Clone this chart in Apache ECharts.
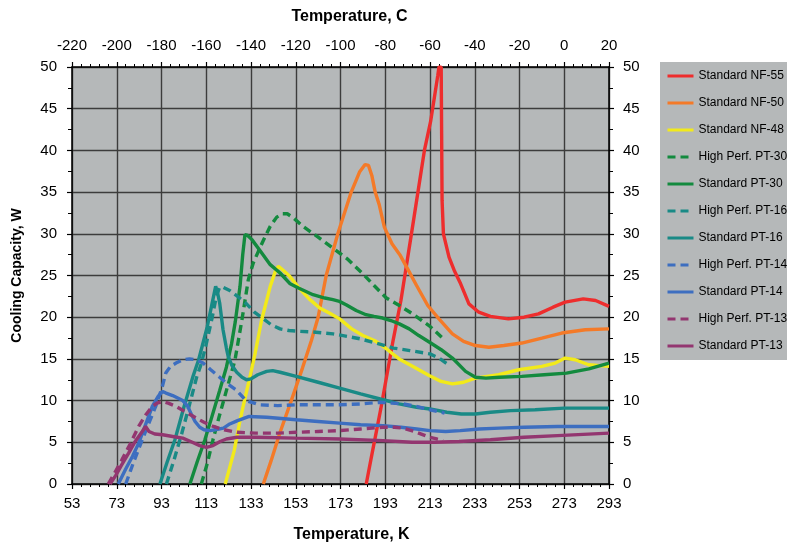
<!DOCTYPE html>
<html>
<head>
<meta charset="utf-8">
<script src="https://cdn.jsdelivr.net/npm/echarts@6/dist/echarts.min.js"></script>
<style>
html,body{margin:0;padding:0;background:#fff;}
#chart{width:787px;height:549px;}
</style>
</head>
<body>
<div id="chart"></div>
<script>
// Tick labels / axis ranges
var kelvinTicks = [53, 73, 93, 113, 133, 153, 173, 193, 213, 233, 253, 273, 293];
var celsiusTicks = [-220, -200, -180, -160, -140, -120, -100, -80, -60, -40, -20, 0, 20];
var capacityTicks = [0, 5, 10, 15, 20, 25, 30, 35, 40, 45, 50];

var seriesNames = ['Standard NF-55', 'Standard NF-50', 'Standard NF-48', 'High Perf. PT-30', 'Standard PT-30',
  'High Perf. PT-16', 'Standard PT-16', 'High Perf. PT-14', 'Standard PT-14', 'High Perf. PT-13', 'Standard PT-13'];

// [Temperature K, Cooling capacity W]
var nf55 = [[184.5,0],[186.5,2.8],[191,9],[196.5,17.2],[200,22],[205,30.5],[210.5,40],[213.3,43.5],[216.5,49],[217,50],[218,50],[218.2,42],[218.4,34],[219,30],[221.5,27.2],[224,25.5],[226.7,24],[230.4,21.6],[234.8,20.6],[240,20.1],[248,19.8],[255,20],[261.5,20.4],[268,21.2],[273.4,21.8],[281.5,22.2],[287,22],[293,21.3]];
var nf50 = [[138.5,0],[142,2.8],[146,6.2],[151,10],[156,13.9],[160,17.2],[163,20],[166.6,25],[171.8,30],[177.8,35],[181.5,37.4],[184,38.3],[185.5,38.2],[187,37],[188.5,35],[190.3,33.5],[192.6,30.8],[196,28.8],[199.5,27.5],[203,25.8],[207,23.8],[212,21.4],[217,19.8],[223,18],[228,17.1],[233.3,16.6],[239.3,16.4],[246,16.6],[254,16.9],[263,17.5],[271.9,18.1],[282.4,18.5],[293,18.6]];
var nf48 = [[121.5,0],[123.5,2],[125.5,4],[128,7.5],[130.5,10.5],[132.5,12.8],[134.8,15.6],[137.7,19.6],[141.6,23.7],[144,25.6],[145.3,26.1],[147.5,25.6],[150.3,24.9],[154.8,23.4],[159,22.2],[163.7,21.1],[168,20.5],[172.6,19.8],[178,18.6],[183,17.8],[188.9,17.1],[194,16.1],[199.2,15],[206,14],[212.6,13],[218,12.3],[223,12],[228,12.2],[233.3,12.7],[243.7,13.1],[252.6,13.7],[263,14.1],[269,14.5],[273.4,15.1],[277.9,14.9],[283.9,14.3],[293,14.1]];
var hpPt30 = [[110.8,0],[113.5,2.5],[116,5.3],[119,8.3],[122,11.2],[125.8,14.8],[128.9,19.6],[131.8,24.5],[134,26.5],[136.3,27.9],[138.5,29.2],[141.6,30.9],[144.5,32],[147,32.4],[149.2,32.4],[152,31.9],[156.2,30.9],[163,29.6],[169.5,28.3],[176,27],[183,25.2],[188,23.8],[193.5,22.3],[199.3,21.4],[205.2,20.4],[213,18.9],[219,17.4]];
var stdPt30 = [[105.7,0],[109,2.7],[112.4,5.3],[115,7.6],[119,11.2],[122,14],[124.3,16.8],[126,19.5],[128.1,23.7],[129.3,27.5],[130.3,29.9],[131.5,29.8],[133.4,29.3],[137,28],[141.6,26.3],[146,25.3],[150.5,24],[154.2,23.5],[160.7,22.7],[166,22.3],[169.6,22.1],[172.5,21.9],[175.5,21.5],[180,20.8],[184.4,20.3],[188,20.1],[191.8,19.9],[195.5,19.6],[199.3,19.2],[203.7,18.6],[208,17.8],[212.8,17],[218,16.1],[223,15.1],[228.9,13.5],[233.3,12.8],[238,12.7],[244,12.8],[254,12.9],[264,13.1],[274,13.3],[284,13.8],[293,14.5]];
var hpPt16 = [[95.2,0],[98.5,2.8],[102,6],[105.5,9.5],[108.7,12.8],[110.5,14.2],[112.5,16.2],[115.6,19.9],[117.5,22.5],[119,23.6],[120.5,23.6],[123.5,23.2],[127,22.5],[131,21.6],[134.5,20.6],[138.5,19.8],[142,19.1],[146,18.6],[150,18.4],[155,18.3],[162,18.2],[169.7,18],[176,17.7],[181.8,17.4],[189,16.9],[196.6,16.3],[204,16],[213,15.6],[217,15.1],[220.7,14.4]];
var stdPt16 = [[92.3,0],[95.5,2.6],[99,5.3],[103,9.2],[107.2,13],[109.6,14.9],[113.4,18.8],[115.5,21.5],[117.2,23.7],[118,23],[119,21.7],[120.5,18.5],[122,16.3],[122.8,15.3],[124.5,14.2],[126.6,13.4],[129,12.8],[131,12.5],[133,12.6],[136,13.1],[140,13.5],[142.7,13.6],[146,13.4],[153.2,12.9],[163,12.2],[172.6,11.5],[182,10.8],[192,10.1],[199.2,9.6],[207,9.2],[213,9],[220.5,8.6],[227,8.4],[233.3,8.4],[240,8.6],[249,8.8],[260,8.9],[273,9.1],[293,9.1]];
var hpPt14 = [[77,0],[80.5,2.6],[84.4,5.3],[87.5,7.4],[90.4,9.3],[93.4,11.7],[94.9,13.3],[97,14.1],[99.5,14.5],[102.5,14.9],[105.5,15],[108.5,14.9],[111.6,14.5],[115,13.7],[118.6,12.9],[122,12.1],[126.3,11.3],[130.8,10],[136.7,9.5],[145,9.4],[153.2,9.5],[163,9.5],[172.6,9.5],[182,9.6],[190.6,9.8],[196,9.7],[201,9.6],[207,9.3],[213,8.9],[219.5,8.5]];
var stdPt14 = [[73.7,0],[77,1.8],[80,3.3],[82.8,4.9],[86,7.2],[88.9,9.3],[91.5,10.5],[93.5,11.1],[95,10.9],[98,10.6],[102.5,10],[104.5,9.4],[106.3,8.4],[108,7.5],[110.1,6.8],[112,6.5],[114.6,6.4],[117,6.5],[120.7,6.7],[123.5,7.2],[127,7.6],[132.2,8.1],[140,8],[153.2,7.7],[163,7.5],[172.6,7.3],[182,7.1],[192,7],[200,6.8],[207,6.6],[213,6.4],[220,6.3],[226.5,6.4],[235,6.6],[244,6.7],[255,6.8],[270,6.9],[293,6.9]];
var hpPt13 = [[69.2,0],[72,1.3],[75.3,2.9],[79,4.8],[82.8,6.9],[86,8.3],[88.9,9.3],[91,9.7],[93.5,9.9],[96,9.7],[99.5,9.3],[104,8.6],[108.6,7.9],[112,7.4],[116.2,6.9],[121,6.5],[126.8,6.2],[135,6.1],[145,6.1],[153.2,6.2],[163,6.3],[172.6,6.4],[182,6.6],[192,6.8],[197,6.8],[201,6.7],[206,6.3],[210,5.9],[213,5.6],[216,5.4],[218.8,5.2]];
var stdPt13 = [[70,0],[72.5,1],[75,2.2],[78.3,3.7],[81,5],[84.4,6.3],[85.9,6.9],[87.4,6.3],[90,6],[93.5,5.9],[98,5.7],[102.5,5.5],[106,5.1],[110.1,4.6],[113.1,4.4],[116,4.6],[119.2,5.1],[122,5.4],[126.8,5.6],[135,5.6],[153,5.5],[172.6,5.4],[192,5.2],[205,5],[215,5.0],[226,5.1],[240,5.3],[255,5.6],[270,5.8],[293,6.1]];

var seriesData = [nf55, nf50, nf48, hpPt30, stdPt30, hpPt16, stdPt16, hpPt14, stdPt14, hpPt13, stdPt13];
var seriesColors = ['#ee2d2d', '#f47a28', '#f2ea1a', '#138a3e', '#138a3e', '#198a86', '#198a86', '#3d6ec0', '#3d6ec0', '#933670', '#933670'];
var seriesDashed = [false, false, false, true, false, true, false, true, false, true, false];

var FONT = 'Liberation Sans, Arial, sans-serif';
var chart = echarts.init(document.getElementById('chart'), null, {renderer: 'canvas'});

var series = seriesNames.map(function (name, i) {
  return {
    name: name,
    type: 'line',
    xAxisIndex: 0,
    yAxisIndex: 0,
    data: seriesData[i],
    symbol: 'none',
    smooth: false,
    clip: true,
    lineStyle: {
      color: seriesColors[i],
      width: 3.4,
      type: seriesDashed[i] ? [8, 5] : 'solid'
    },
    itemStyle: {color: seriesColors[i]},
    z: 3
  };
});

function tickFmt(list) {
  return function (v) {
    for (var i = 0; i < list.length; i++) {
      if (Math.abs(list[i] - v) < 1e-6) return String(list[i]);
    }
    return '';
  };
}

var axisLabelBase = {color: '#000', fontSize: 15, fontFamily: FONT};

chart.setOption({
  animation: false,
  backgroundColor: '#ffffff',
  grid: {
    left: 72, right: 178, top: 67, bottom: 65,
    show: true, backgroundColor: '#b5b8b9', borderWidth: 0
  },
  legend: {
    orient: 'vertical',
    left: 660, top: 62,
    itemWidth: 26, itemHeight: 12, itemGap: 15,
    padding: [8, 4, 8, 6],
    backgroundColor: '#b5b8b9',
    itemStyle: {color: 'rgba(0,0,0,0)', borderColor: 'rgba(0,0,0,0)', borderWidth: 0, opacity: 0},
    lineStyle: {width: 3},
    textStyle: {color: '#000', fontSize: 12, fontFamily: FONT},
    data: seriesNames
  },
  xAxis: [{
    type: 'value',
    position: 'bottom',
    min: kelvinTicks[0], max: kelvinTicks[kelvinTicks.length - 1], interval: 20,
    name: 'Temperature, K', nameLocation: 'middle', nameGap: 43,
    nameTextStyle: {color: '#000', fontSize: 16, fontWeight: 'bold', fontFamily: FONT, padding: [0, 0, 0, 22]},
    axisLine: {show: true, onZero: false, lineStyle: {color: '#000', width: 1.5}},
    axisTick: {show: true, length: 5, lineStyle: {color: '#000', width: 1.2}},
    minorTick: {show: true, splitNumber: 5, length: 3, lineStyle: {color: '#000', width: 1}},
    axisLabel: Object.assign({margin: 12, formatter: tickFmt(kelvinTicks)}, axisLabelBase),
    splitLine: {show: true, lineStyle: {color: '#3c3c3c', width: 1.4}}
  }, {
    type: 'value',
    position: 'top',
    min: celsiusTicks[0], max: celsiusTicks[celsiusTicks.length - 1], interval: 20,
    name: 'Temperature, C', nameLocation: 'middle', nameGap: 42,
    nameTextStyle: {color: '#000', fontSize: 16, fontWeight: 'bold', fontFamily: FONT, padding: [0, 0, 0, 18]},
    axisLine: {show: true, onZero: false, lineStyle: {color: '#000', width: 1.5}},
    axisTick: {show: true, length: 5, lineStyle: {color: '#000', width: 1.2}},
    minorTick: {show: true, splitNumber: 5, length: 3, lineStyle: {color: '#000', width: 1}},
    axisLabel: Object.assign({margin: 14, formatter: tickFmt(celsiusTicks)}, axisLabelBase),
    splitLine: {show: false}
  }],
  yAxis: [{
    type: 'value',
    position: 'left',
    min: capacityTicks[0], max: capacityTicks[capacityTicks.length - 1], interval: 5,
    name: 'Cooling Capacity, W', nameLocation: 'middle', nameGap: 48,
    nameTextStyle: {color: '#000', fontSize: 14, fontWeight: 'bold', fontFamily: FONT},
    axisLine: {show: true, onZero: false, lineStyle: {color: '#000', width: 1.5}},
    axisTick: {show: true, length: 5, lineStyle: {color: '#000', width: 1.2}},
    minorTick: {show: true, splitNumber: 2, length: 4, lineStyle: {color: '#000', width: 1}},
    axisLabel: Object.assign({margin: 15, formatter: tickFmt(capacityTicks)}, axisLabelBase),
    splitLine: {show: true, lineStyle: {color: '#3c3c3c', width: 1.4}}
  }, {
    type: 'value',
    position: 'right',
    min: capacityTicks[0], max: capacityTicks[capacityTicks.length - 1], interval: 5,
    axisLine: {show: true, onZero: false, lineStyle: {color: '#000', width: 1.5}},
    axisTick: {show: true, length: 5, lineStyle: {color: '#000', width: 1.2}},
    minorTick: {show: true, splitNumber: 2, length: 4, lineStyle: {color: '#000', width: 1}},
    axisLabel: Object.assign({margin: 14, formatter: tickFmt(capacityTicks)}, axisLabelBase),
    splitLine: {show: false}
  }],
  series: series
});
</script>
</body>
</html>
